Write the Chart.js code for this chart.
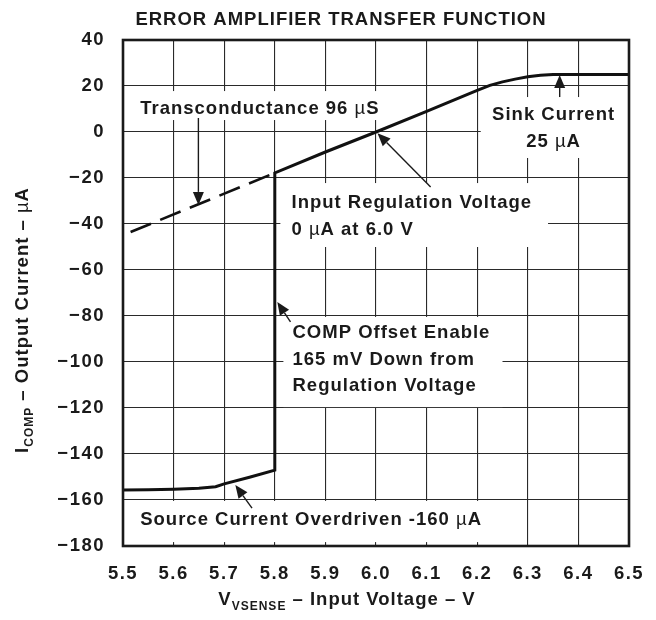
<!DOCTYPE html>
<html>
<head>
<meta charset="utf-8">
<script src="https://cdn.jsdelivr.net/npm/chart.js@4.4.0/dist/chart.umd.min.js"></script>
<style>
  html, body { margin: 0; padding: 0; background: #fff; }
  #wrap { width: 656px; height: 620px; }
</style>
</head>
<body>
<div id="wrap"><canvas id="transfer" width="656" height="620"></canvas></div>
<script>
// measured curve, I_COMP (uA) against V_VSENSE (V)
const vsense = [5.5, 5.55, 5.6, 5.65, 5.683, 5.7, 5.75, 5.8, 5.8, 5.9, 6.0, 6.1, 6.2, 6.225, 6.25, 6.275, 6.3, 6.325, 6.35, 6.4, 6.5];
const icomp  = [-155.7, -155.5, -155.3, -154.9, -154.2, -153, -150.1, -147, -17.8, -8.7, 0, 9.0, 18.1, 20.3, 21.8, 23.0, 24.0, 24.7, 25, 25, 25];

// transconductance line extended below the offset threshold (dashed)
const gmVsense = [5.515, 5.8];
const gmIcomp  = [-43.5, -17.8];

const FONT = "'Liberation Sans', Arial, Helvetica, sans-serif";
const INK = '#1a1a1a';

// callouts, in data units (text anchor + white box behind it)
const notes = [
  { lines: ['Transconductance 96 µS'], x: 5.534, y: 10, align: 'left', box: [5.52, 6.035, 17.8, 5.2] },
  { lines: ['Sink Current', '25 µA'], x: 6.351, y: 7.4, align: 'center', box: [6.207, 6.5, 15.2, -11.3] },
  { lines: ['Input Regulation Voltage', '0 µA at 6.0 V'], x: 5.833, y: -30.9, align: 'left', box: [5.811, 6.34, -22.2, -50] },
  { lines: ['COMP Offset Enable', '165 mV Down from', 'Regulation Voltage'], x: 5.835, y: -87.4, align: 'left', box: [5.817, 6.25, -80.4, -119.6] },
  { lines: ['Source Current Overdriven -160 µA'], x: 5.534, y: -168.7, align: 'left', box: [5.506, 6.256, -160.4, -178.3] }
];
const arrows = [
  { from: [5.649, 6.1], to: [5.649, -31.7] },
  { from: [6.363, 15.2], to: [6.363, 24.8] },
  { from: [6.108, -23.9], to: [6.003, -0.5] },
  { from: [5.831, -82.6], to: [5.805, -73.9] },
  { from: [5.755, -163.5], to: [5.722, -153.5] }
];

// draws a string where µ uses the regular weight, like the symbol font in the original
function richText(ctx, text, x, y, align, size) {
  const parts = text.split(/(µ)/).filter(p => p.length);
  const fonts = parts.map(p => (p === 'µ' ? '' : 'bold ') + size + 'px ' + FONT);
  let total = 0;
  const widths = parts.map((p, i) => { ctx.font = fonts[i]; const w = ctx.measureText(p).width; total += w; return w; });
  let cx = align === 'center' ? x - total / 2 : x;
  ctx.textAlign = 'left';
  parts.forEach((p, i) => { ctx.font = fonts[i]; ctx.fillText(p, cx, y); cx += widths[i]; });
}

function drawParts(ctx, parts, cx, baseY) {
  let total = 0;
  parts.forEach(p => { ctx.font = p.font; p.w = ctx.measureText(p.t).width; total += p.w; });
  let x = cx - total / 2;
  ctx.textAlign = 'left';
  ctx.textBaseline = 'alphabetic';
  parts.forEach(p => { ctx.font = p.font; ctx.fillText(p.t, x, baseY + (p.dy || 0)); x += p.w; });
}

// tick labels in the original are a little wider than the plain font
const spacing = {
  id: 'spacing',
  beforeDraw(chart) { chart.ctx.letterSpacing = '1.5px'; }
};

const callouts = {
  id: 'callouts',
  beforeDatasetsDraw(chart) {
    const { ctx, scales: { x, y } } = chart;
    ctx.save();
    ctx.fillStyle = '#fff';
    notes.forEach(n => {
      const l = x.getPixelForValue(n.box[0]), r = x.getPixelForValue(n.box[1]);
      const t = y.getPixelForValue(n.box[2]), b = y.getPixelForValue(n.box[3]);
      ctx.fillRect(l, t, r - l, b - t);
    });
    ctx.restore();
  },
  afterDatasetsDraw(chart) {
    const { ctx, chartArea: a, scales: { x, y } } = chart;
    ctx.save();
    ctx.letterSpacing = '1px';
    ctx.strokeStyle = INK;
    ctx.lineWidth = 2.6;
    ctx.strokeRect(a.left, a.top, a.right - a.left, a.bottom - a.top);

    ctx.fillStyle = INK;
    ctx.lineWidth = 1.4;
    arrows.forEach(ar => {
      const x0 = x.getPixelForValue(ar.from[0]), y0 = y.getPixelForValue(ar.from[1]);
      const x1 = x.getPixelForValue(ar.to[0]), y1 = y.getPixelForValue(ar.to[1]);
      const ang = Math.atan2(y1 - y0, x1 - x0);
      const len = 13, half = 5.5;
      const bx = x1 - len * Math.cos(ang), by = y1 - len * Math.sin(ang);
      ctx.beginPath();
      ctx.moveTo(x0, y0);
      ctx.lineTo(bx, by);
      ctx.stroke();
      ctx.beginPath();
      ctx.moveTo(x1, y1);
      ctx.lineTo(bx + half * Math.sin(ang), by - half * Math.cos(ang));
      ctx.lineTo(bx - half * Math.sin(ang), by + half * Math.cos(ang));
      ctx.closePath();
      ctx.fill();
    });

    ctx.textBaseline = 'middle';
    notes.forEach(n => {
      const px = x.getPixelForValue(n.x), py = y.getPixelForValue(n.y);
      n.lines.forEach((line, i) => richText(ctx, line, px, py + i * 26.5, n.align, 18.5));
    });
    ctx.restore();
  },
  afterDraw(chart) {
    const ctx = chart.ctx;
    ctx.save();
    ctx.letterSpacing = '1px';
    ctx.fillStyle = INK;
    ctx.textBaseline = 'alphabetic';
    ctx.textAlign = 'center';
    ctx.font = 'bold 18.5px ' + FONT;
    ctx.fillText('ERROR AMPLIFIER TRANSFER FUNCTION', 341, 25);

    const main = 'bold 18.5px ' + FONT, sub = 'bold 12px ' + FONT;
    drawParts(ctx, [
      { t: 'V', font: main },
      { t: 'VSENSE', font: sub, dy: 5 },
      { t: ' \u2013 Input Voltage \u2013 V', font: main }
    ], 347, 605);

    ctx.translate(21, 320);
    ctx.rotate(-Math.PI / 2);
    drawParts(ctx, [
      { t: 'I', font: main },
      { t: 'COMP', font: sub, dy: 5 },
      { t: ' \u2013 Output Current \u2013 ', font: main },
      { t: 'µ', font: '18.5px ' + FONT },
      { t: 'A', font: main }
    ], 0, 6.5);
    ctx.restore();
  }
};

const ctx = document.getElementById('transfer').getContext('2d');
const chart = new Chart(ctx, {
  type: 'line',
  data: {
    datasets: [
      {
        data: vsense.map((v, i) => ({ x: v, y: icomp[i] })),
        borderColor: '#111', borderWidth: 3, pointRadius: 0, tension: 0, fill: false
      },
      {
        data: gmVsense.map((v, i) => ({ x: v, y: gmIcomp[i] })),
        borderColor: '#111', borderWidth: 2.6, borderDash: [22, 10], pointRadius: 0, tension: 0, fill: false
      }
    ]
  },
  options: {
    responsive: false,
    animation: false,
    layout: { padding: { top: 40, right: 27, left: 0, bottom: 0 } },
    plugins: { legend: { display: false }, tooltip: { enabled: false }, title: { display: false } },
    scales: {
      x: {
        type: 'linear', min: 5.5, max: 6.5,
        grid: { color: '#2a2a2a', lineWidth: 1.1, drawTicks: false },
        border: { display: false },
        ticks: {
          stepSize: 0.1, padding: 17, color: INK,
          font: { family: FONT, size: 18.5, weight: 'bold' },
          callback: v => Number(v).toFixed(1)
        },
        afterFit(scale) { scale.height = 74; scale.paddingRight = 0; scale.paddingLeft = 0; }
      },
      y: {
        min: -180, max: 40,
        grid: { color: '#2a2a2a', lineWidth: 1.1, drawTicks: false },
        border: { display: false },
        ticks: {
          stepSize: 20, padding: 18, color: INK,
          font: { family: FONT, size: 18.5, weight: 'bold' },
          callback: v => v < 0 ? '\u2212' + Math.abs(v) : String(v)
        },
        afterFit(scale) { scale.width = 123; }
      }
    }
  },
  plugins: [spacing, callouts]
});
</script>
</body>
</html>
